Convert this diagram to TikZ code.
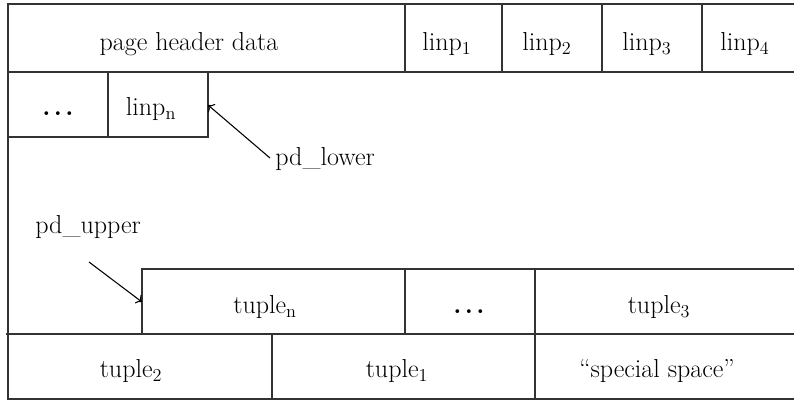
\documentclass[tikz,border=0pt]{standalone}
\usetikzlibrary{arrows.meta}
\begin{document}
\begin{tikzpicture}[x=0.75pt,y=-0.75pt,
  rule/.style={draw=black!80,line width=0.8pt},
  lbl/.style={anchor=base,inner sep=0pt,font=\fontsize{19.5}{22}\selectfont},
  ptr/.style={draw=black,line width=0.8pt,-{To[length=4pt,width=8pt]}}]
\newcommand\mydots{\textbf{.\hspace{2.5pt}.\hspace{2.5pt}.}}
\useasboundingbox (0,0) rectangle (794,401);
% frame lines
\draw[rule] (794,4) -- (8,4) -- (8,399) -- (794,399);
\draw[rule] (8,72) -- (794,72);
\foreach \x in {405,502,602,702} \draw[rule] (\x,4) -- (\x,72);
% second row
\draw[rule] (8,137) -- (208,137) -- (208,72);
\draw[rule] (108,72) -- (108,137);
% tuple row
\draw[rule] (142,334) -- (142,269) -- (794,269);
\draw[rule] (405,269) -- (405,334);
\draw[rule] (535,269) -- (535,399);
\draw[rule] (6,334) -- (794,334);
\draw[rule] (272,334) -- (272,399);
% labels
\node[lbl] (hdr) at (189,50) {page header data};
\node[lbl] (l1) at (447,50) {linp\textsubscript{1}};
\node[lbl] (l2) at (547,50) {linp\textsubscript{2}};
\node[lbl] (l3) at (647,50) {linp\textsubscript{3}};
\node[lbl] (l4) at (745,50) {linp\textsubscript{4}};
\node[lbl] (dots1) at (58,115) {\mydots};
\node[lbl] (ln) at (151,115) {linp\textsubscript{n}};
\node[lbl,anchor=base west] (pdl) at (275,165) {pd\_lower};
\node[lbl,anchor=base west] (pdu) at (35,233) {pd\_upper};
\node[lbl] (tn) at (265,313) {tuple\textsubscript{n}};
\node[lbl] (dots2) at (469,313) {\mydots};
\node[lbl] (t3) at (659,313) {tuple\textsubscript{3}};
\node[lbl] (t2) at (131,377) {tuple\textsubscript{2}};
\node[lbl] (t1) at (397,377) {tuple\textsubscript{1}};
\node[lbl] (sp) at (657,377) {``special space''};
% pointers
\coordinate (pdltail) at (270,158);
\coordinate (pdlhead) at (208,105);
\coordinate (pdutail) at (89,262);
\coordinate (pduhead) at (142,302);
\draw[ptr] (pdltail) -- (pdlhead);
\draw[ptr] (pdutail) -- (pduhead);
\end{tikzpicture}
\end{document}
